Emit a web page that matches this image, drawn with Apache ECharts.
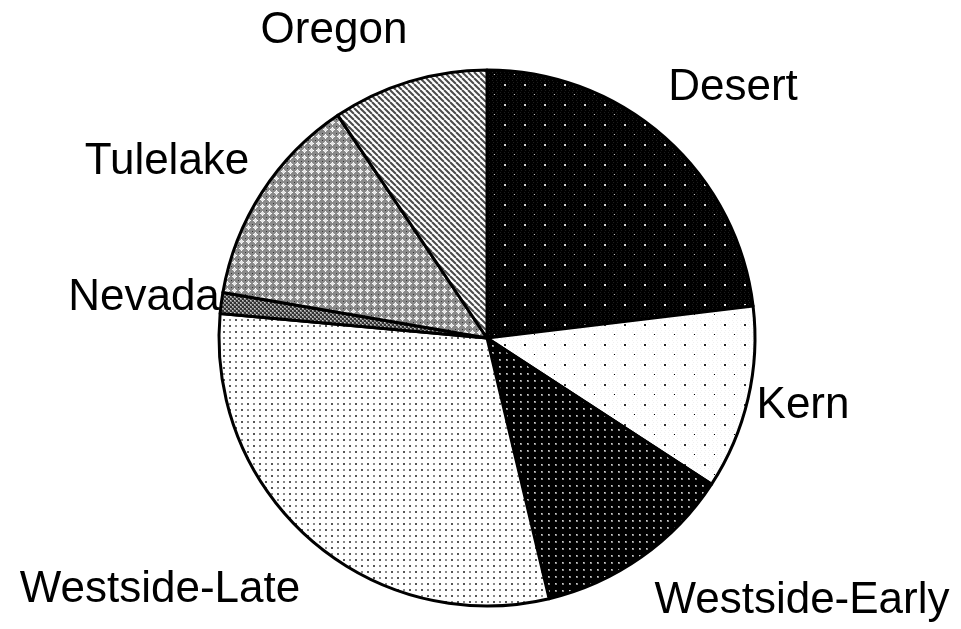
<!DOCTYPE html>
<html>
<head>
<meta charset="utf-8">
<script src="https://cdn.jsdelivr.net/npm/echarts@6/dist/echarts.min.js"></script>
<style>
html,body{margin:0;padding:0;background:#fff;}
#chart{width:961px;height:629px;}
</style>
</head>
<body>
<div id="chart"></div>
<script>
// ---- data ----
var categories = ['Desert', 'Kern', 'Westside-Early', 'Westside-Late', 'Nevada', 'Tulelake', 'Oregon'];
var values = [23.1, 11.1, 12.1, 30.2, 1.25, 12.9, 9.4];

// ---- label placement (layout only) ----
var labelPos = [
  [733, 88], [803, 406], [802, 601], [160, 590], [144, 298], [167, 162], [334, 31]
];

function tile(w, h, draw) {
  var c = document.createElement('canvas');
  c.width = w; c.height = h;
  var g = c.getContext('2d');
  draw(g, w, h);
  return { image: c, repeat: 'repeat' };
}

var patterns = [
  // Desert: black with sparse white dots
  tile(20, 20, function (g) {
    g.fillStyle = '#000'; g.fillRect(0, 0, 20, 20);
    g.fillStyle = '#1c1c1c';
    for (var i = 0; i < 20; i += 2) for (var j = (i / 2) % 2 ? 1 : 0; j < 20; j += 4) g.fillRect(j, i, 1, 1);
    g.fillStyle = '#d0d0d0'; g.fillRect(4, 4, 2, 2);
    g.fillStyle = '#bbbbbb'; g.fillRect(14, 14, 1, 1);
  }),
  // Kern: white with sparse black dots
  tile(20, 20, function (g) {
    g.fillStyle = '#fff'; g.fillRect(0, 0, 20, 20);
    g.fillStyle = '#f0f0f0';
    for (var i = 0; i < 20; i += 2) for (var j = (i / 2) % 2 ? 1 : 0; j < 20; j += 4) g.fillRect(j, i, 1, 1);
    g.fillStyle = '#333'; g.fillRect(4, 4, 2, 2);
    g.fillStyle = '#000'; g.fillRect(14, 14, 1, 1);
  }),
  // Westside-Early: black with dense grey dots
  tile(7, 7, function (g) {
    g.fillStyle = '#000'; g.fillRect(0, 0, 7, 7);
    g.fillStyle = '#8a8a8a'; g.fillRect(2, 2, 2, 2);
    g.fillStyle = '#d0d0d0'; g.fillRect(2, 2, 1, 1);
  }),
  // Westside-Late: white with dense grey dots
  tile(12, 12, function (g) {
    g.fillStyle = '#fff'; g.fillRect(0, 0, 12, 12);
    g.fillStyle = '#555'; g.fillRect(1, 1, 2, 2); g.fillRect(7, 7, 2, 2);
    g.fillStyle = '#8a8a8a'; g.fillRect(7, 1, 2, 2); g.fillRect(1, 7, 2, 2);
  }),
  // Nevada: dark grey checker
  tile(4, 4, function (g) {
    g.fillStyle = '#888'; g.fillRect(0, 0, 4, 4);
    g.fillStyle = '#333'; g.fillRect(0, 0, 2, 2); g.fillRect(2, 2, 2, 2);
    g.fillStyle = '#ccc'; g.fillRect(2, 0, 1, 1); g.fillRect(0, 2, 1, 1);
  }),
  // Tulelake: grey mesh with white crosses
  tile(7, 7, function (g) {
    g.fillStyle = '#8a8a8a'; g.fillRect(0, 0, 7, 7);
    g.fillStyle = '#ffffff'; g.fillRect(3, 1, 1, 5); g.fillRect(1, 3, 5, 1);
    g.fillStyle = '#e4e4e4'; g.fillRect(2, 2, 3, 3);
    g.fillStyle = '#333'; g.fillRect(0, 0, 1, 1);
  }),
  // Oregon: diagonal stripes (\)
  tile(6, 6, function (g) {
    g.fillStyle = '#fff'; g.fillRect(0, 0, 6, 6);
    g.strokeStyle = '#4a4a4a'; g.lineWidth = 2;
    for (var k = -6; k <= 6; k += 6) {
      g.beginPath(); g.moveTo(k, 0); g.lineTo(k + 6, 6); g.stroke();
    }
  })
];

var chart = echarts.init(document.getElementById('chart'), null, { renderer: 'canvas', devicePixelRatio: 1 });

var seriesData = categories.map(function (name, i) {
  return { name: name, value: values[i], itemStyle: { color: patterns[i] } };
});

chart.setOption({
  animation: false,
  backgroundColor: '#fff',
  series: [{
    type: 'pie',
    center: [487, 338],
    radius: [0, 268],
    startAngle: 90,
    clockwise: true,
    avoidLabelOverlap: false,
    minAngle: 0,
    data: seriesData,
    itemStyle: { borderColor: '#000', borderWidth: 3 },
    emphasis: { disabled: true },
    label: {
      show: true,
      position: 'outside',
      formatter: '{b}',
      fontFamily: '"Liberation Sans", Arial, sans-serif',
      fontSize: 44,
      color: '#000'
    },
    labelLine: { show: false },
    labelLayout: function (p) {
      var pos = labelPos[p.dataIndex];
      return { x: pos[0], y: pos[1], align: 'center', verticalAlign: 'middle' };
    }
  }]
});
</script>
</body>
</html>
